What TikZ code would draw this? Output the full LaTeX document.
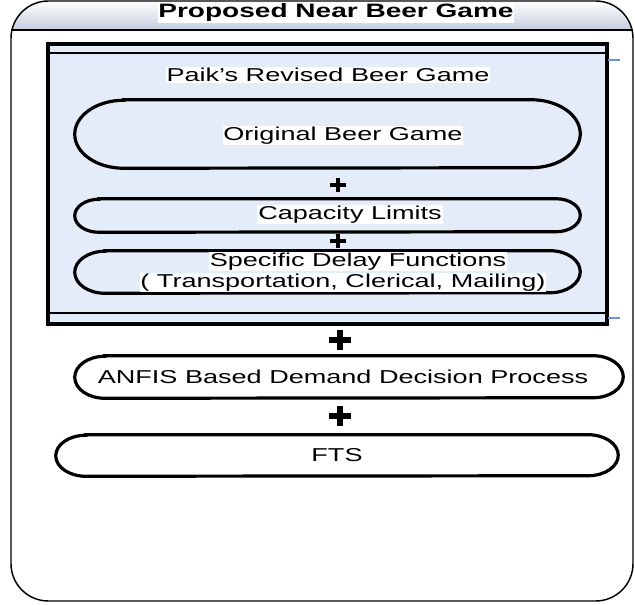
\documentclass[tikz,border=0pt]{standalone}
\usepackage{fontspec}
\setmainfont{Liberation Sans}[FakeStretch=1.45]

\definecolor{innerblue}{RGB}{228,235,249}
\definecolor{headgray}{RGB}{196,205,222}
\definecolor{tickblue}{RGB}{110,145,210}

\tikzset{
  slot/.style={rectangle, inner sep=0pt},
  pillline/.style={draw=black, line width=2.4pt},
  lbl/.style={fill=white, inner sep=0.6pt, font=\fontsize{14}{16.5}\selectfont},
  plussign/.style={line width=3.4pt},
  bigplus/.style={line width=4.4pt},
}

\begin{document}
\begin{tikzpicture}[x=0.75pt,y=-0.75pt]
        \useasboundingbox (0,0) rectangle (635,605);
        % outer frame with shaded header
        \begin{scope}
          \clip[rounded corners=28pt] (11,1) -- (633,1) -- (633,601) -- (11,601) -- cycle;
          \shade[top color=white, bottom color=headgray] (11,1) rectangle (633,30);
        \end{scope}
        \draw [line width=1.1pt, rounded corners=28pt] (11,1) -- (633,1) -- (633,601) -- (11,601) -- cycle;
        \draw [line width=1.1pt] (11,30) -- (633,30);
        \node [lbl, font=\fontsize{14.5}{16.5}\selectfont\bfseries] (title) at (336,13) {Proposed Near Beer Game};

        % Paik's revised beer game box
        \fill [innerblue] (48,44) rectangle (607,324);
        \draw [line width=2.4pt] (48,44) rectangle (607,324);
        \draw [line width=2.8pt] (48,44) -- (607,44);
        \draw [line width=1.6pt] (48,53) -- (607,53);
        \draw [line width=1.6pt] (48,313) -- (607,313);
        \draw [line width=2.8pt] (48,324) -- (607,324);
        \draw [tickblue, line width=0.8pt] (608,60) -- (620,60);
        \draw [tickblue, line width=0.8pt] (608,318) -- (620,318);
        \node [lbl] (paik) at (328,75) {Paik's Revised Beer Game};

        \node [slot, minimum width=378.75pt, minimum height=51pt] (obg) at (327.5,134) {};
        \node [slot, minimum width=378.75pt, minimum height=24.75pt] (cap) at (327.5,215.5) {};
        \node [slot, minimum width=378.75pt, minimum height=31.5pt] (delay) at (327.5,272) {};
        \node [slot, minimum width=411pt, minimum height=31.5pt] (anfis) at (349,377) {};
        \node [slot, minimum width=421.5pt, minimum height=30.75pt] (fts) at (337,455.5) {};

        % pill outlines, wide elliptic ends
        \foreach \n/\r/\h in {obg/36.75/25.5, cap/18/12.375, delay/22.5/15.75, anfis/22.5/15.75, fts/22.5/15.375}
          \draw [pillline] ([xshift=\r pt]\n.north west) -- ([xshift=-\r pt]\n.north east)
            arc [start angle=90, end angle=-90, x radius=\r pt, y radius=\h pt]
            -- ([xshift=\r pt]\n.south west)
            arc [start angle=270, end angle=90, x radius=\r pt, y radius=\h pt] -- cycle;

        \node [lbl] (obgtxt) at (343,136) {Original Beer Game};
        \node [lbl] (captxt) at (350,215) {Capacity Limits};
        \node [lbl] (delaytxt) at (358,262) {Specific Delay Functions};
        \node [lbl] (delaytxtb) at (343,283) {( Transportation, Clerical, Mailing)};
        \node [lbl] (anfistxt) at (343,377) {ANFIS Based Demand Decision Process};
        \node [lbl] (ftstxt) at (337,455) {FTS};

        % plus signs
        \coordinate (p1) at (338,185);
        \coordinate (p2) at (338,241);
        \coordinate (p3) at (340,340);
        \coordinate (p4) at (340,416);
        \foreach \p in {p1, p2}
          \draw [plussign] (\p) +(-8,0) -- +(8,0) (\p) +(0,-7) -- +(0,7);
        \foreach \p in {p3, p4}
          \draw [bigplus] (\p) +(-11,0) -- +(11,0) (\p) +(0,-10) -- +(0,10);
\end{tikzpicture}
\end{document}
